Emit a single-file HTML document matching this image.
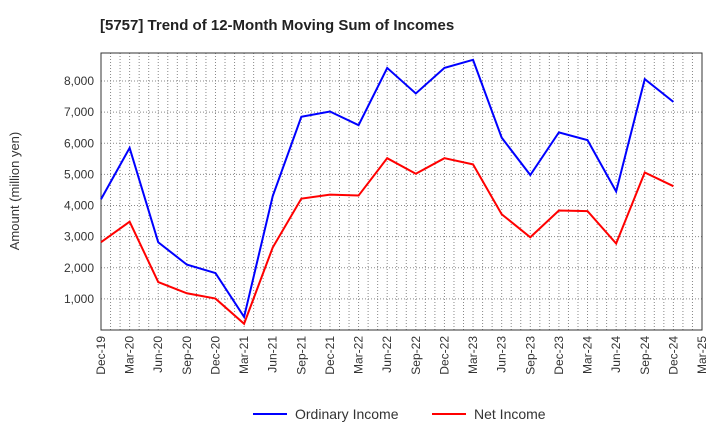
<!DOCTYPE html>
<html><head><meta charset="utf-8"><style>
body{margin:0;background:#fff;font-family:"Liberation Sans",sans-serif;}
</style></head><body>
<svg width="720" height="440" xmlns="http://www.w3.org/2000/svg">
<text x="100" y="30" font-size="15" font-weight="bold" fill="#222">[5757]  Trend of 12-Month Moving Sum of Incomes</text>
<g id="grid"></g>
<g id="axes"></g>
<g id="series"></g>
<text transform="translate(19,191) rotate(-90)" text-anchor="middle" font-size="13" fill="#333">Amount (million yen)</text>
<g>
<line x1="253" y1="414" x2="287" y2="414" stroke="#0000ff" stroke-width="2"/>
<text x="295" y="419" font-size="14" fill="#333">Ordinary Income</text>
<line x1="432" y1="414" x2="466" y2="414" stroke="#ff0000" stroke-width="2"/>
<text x="474" y="419" font-size="14" fill="#333">Net Income</text>
</g>
</svg>
<script>
const categories=["Dec-19","Mar-20","Jun-20","Sep-20","Dec-20","Mar-21","Jun-21","Sep-21","Dec-21","Mar-22","Jun-22","Sep-22","Dec-22","Mar-23","Jun-23","Sep-23","Dec-23","Mar-24","Jun-24","Sep-24","Dec-24","Mar-25"];
const ordinaryIncome=[4200,5850,2820,2100,1830,420,4300,6850,7020,6580,8420,7600,8420,8680,6180,4980,6350,6100,4450,8060,7330];
const netIncome=[2820,3480,1540,1180,1010,200,2650,4220,4350,4320,5520,5020,5520,5320,3720,2980,3840,3820,2780,5060,4620];
const yTicks=[1000,2000,3000,4000,5000,6000,7000,8000];
const L=101,R=702,T=53,B=330,YMAX=8900;
const NS="http://www.w3.org/2000/svg";
const xs=i=>L+(R-L)*i/(categories.length-1);
const ys=v=>B-(B-T)*v/YMAX;
function mk(tag,attrs,parent){const e=document.createElementNS(NS,tag);for(const k in attrs)e.setAttribute(k,attrs[k]);parent.appendChild(e);return e;}
const grid=document.getElementById('grid'),axes=document.getElementById('axes'),series=document.getElementById('series');
for(let m=1;m<(categories.length-1)*3;m++){const x=L+(R-L)*m/((categories.length-1)*3);
const g=mk('line',{x1:x,x2:x,y1:T,y2:B,stroke:'#888','stroke-dasharray':'1,2','stroke-width':1},grid);

}
yTicks.forEach(v=>{const y=ys(v);
const g=mk('line',{x1:L,x2:R,y1:y,y2:y,stroke:'#888','stroke-dasharray':'1,2','stroke-width':1},grid);


const t=mk('text',{x:L-7,y:y+4,'text-anchor':'end','font-size':12,fill:'#333'},axes);t.textContent=v.toLocaleString('en-US');

});
categories.forEach((c,i)=>{const x=xs(i);
const t=mk('text',{transform:`translate(${x+4},${B+6}) rotate(-90)`,'text-anchor':'end','font-size':12,fill:'#333'},axes);t.textContent=c;

});
const fr=mk('rect',{x:L,y:T,width:R-L,height:B-T,fill:'none',stroke:'#333','stroke-width':1},axes);


function line(vals,color,name){const p=mk('polyline',{points:vals.map((v,i)=>xs(i)+','+ys(v)).join(' '),fill:'none',stroke:color,'stroke-width':2},series);

}
line(ordinaryIncome,'#0000ff','ordinary-income-line');
line(netIncome,'#ff0000','net-income-line');
</script>
</body></html>
